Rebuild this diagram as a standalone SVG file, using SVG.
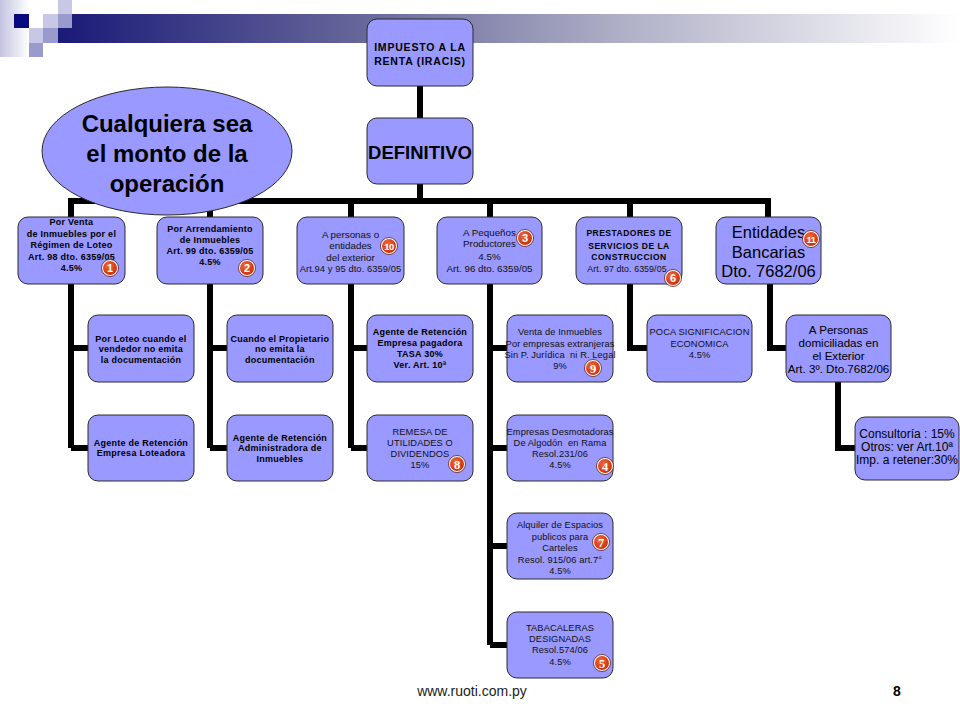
<svg xmlns="http://www.w3.org/2000/svg" width="960" height="720" viewBox="0 0 960 720">
<defs>
<linearGradient id="barG" x1="0" y1="0" x2="1" y2="0">
<stop offset="0" stop-color="#1a1a78"/>
<stop offset="0.35" stop-color="#6a6a9c"/>
<stop offset="0.62" stop-color="#aeaec6"/>
<stop offset="1" stop-color="#ffffff"/>
</linearGradient>
<linearGradient id="stripG" x1="0" y1="0" x2="1" y2="0">
<stop offset="0" stop-color="#c4c4e2"/>
<stop offset="1" stop-color="#ffffff"/>
</linearGradient>
<radialGradient id="badgeG" cx="0.4" cy="0.35" r="0.7">
<stop offset="0" stop-color="#f26a3a"/>
<stop offset="1" stop-color="#cc2a0a"/>
</radialGradient>
</defs>
<style>
.box{fill:#9999ff;stroke:#2a2a2a;stroke-width:1}
.ell{fill:#9999ff;stroke:#2a2a2a;stroke-width:1}
.con{fill:none;stroke:#000;stroke-width:6;stroke-linejoin:miter;stroke-linecap:butt}
text{font-family:"Liberation Sans",Arial,sans-serif;text-anchor:middle;fill:#000}
.bs{font-size:9px;font-weight:bold;letter-spacing:0.25px}
.rs{font-size:9.3px;letter-spacing:0.1px;fill:#111}
.rm{font-size:9.8px;fill:#111}
.cap{font-size:8.5px;font-weight:bold;letter-spacing:0.5px}
.md{font-size:12px}
.md2{font-size:11.6px}
.lg{font-size:16.5px}
.root{font-size:10.5px;font-weight:bold;letter-spacing:0.8px}
.def{font-size:18.5px;font-weight:bold}
.ellt{font-size:24px;font-weight:bold}
.bo{fill:#ffffff;stroke:#5a1a0a;stroke-width:0.8}
.bi{fill:url(#badgeG)}
.bn{font-size:11px;font-weight:bold;fill:#fff}
.bns{font-family:"Liberation Serif","Times New Roman",serif;font-size:12.5px;font-weight:bold;fill:#fff}
.bn2{font-size:9.5px;font-weight:bold;fill:#fff;letter-spacing:-0.6px}
.pre{white-space:pre}
</style>
<rect width="960" height="720" fill="#ffffff"/>

<g id="header">
<rect x="0" y="0" width="29" height="57" fill="url(#stripG)"/>
<rect x="58" y="14" width="902" height="29" fill="url(#barG)"/>
<rect x="14" y="14" width="15" height="14" fill="#0a0a80"/>
<rect x="43" y="14" width="15" height="14" fill="#c8c8e6"/>
<rect x="58" y="0" width="14" height="14" fill="#c8c8e6"/>
<rect x="58" y="14" width="14" height="14" fill="#9a9acc"/>
<rect x="29" y="28" width="14" height="15" fill="#c8c8e6"/>
<rect x="43" y="28" width="15" height="15" fill="#9a9acc"/>
<rect x="29" y="43" width="14" height="14" fill="#9a9acc"/>
</g>

<g id="connectors">
<path class="con" d="M420 86V118 M420 184V201 M71 217V201H768V217 M210 201V217 M351 201V217 M490 201V217 M630 201V217"/>
<path class="con" d="M71 283V448 M71 348H88 M71 448H88"/>
<path class="con" d="M210 283V448 M210 348H227 M210 448H227"/>
<path class="con" d="M351 283V448 M351 348H367 M351 448H367"/>
<path class="con" d="M490 283V645 M490 348H507 M490 448H507 M490 546H507 M490 645H507"/>
<path class="con" d="M630 283V348H647"/>
<path class="con" d="M770 283V348H786"/>
<path class="con" d="M838 382V448H855"/>
</g>

<g id="root">
<rect class="box" x="367" y="19" width="106" height="67" rx="10"/>
<text class="root" x="420" y="51">IMPUESTO A LA</text>
<text class="root" x="420" y="65">RENTA (IRACIS)</text>
</g>

<g id="definitivo">
<rect class="box" x="367" y="118" width="106" height="66" rx="10"/>
<text class="def" x="420" y="158.5">DEFINITIVO</text>
</g>

<g id="venta-loteo">
<rect class="box" x="18" y="217" width="107" height="67" rx="10"/>
<text class="bs" x="71.5" y="225">Por Venta</text>
<text class="bs" x="71.5" y="236.5">de Inmuebles por el</text>
<text class="bs" x="71.5" y="248">Régimen de Loteo</text>
<text class="bs" x="71.5" y="259.5">Art. 98 dto. 6359/05</text>
<text class="bs" x="71.5" y="270.5">4.5%</text>
</g>

<g id="arrendamiento">
<rect class="box" x="157" y="217" width="106" height="67" rx="10"/>
<text class="bs" x="210" y="231.5">Por Arrendamiento</text>
<text class="bs" x="210" y="242.8">de Inmuebles</text>
<text class="bs" x="210" y="254">Art. 99 dto. 6359/05</text>
<text class="bs" x="210" y="265.3">4.5%</text>
</g>

<g id="exterior">
<rect class="box" x="297" y="217" width="107" height="67" rx="10"/>
<text class="rm" x="350.5" y="237.7">A personas o</text>
<text class="rm" x="350.5" y="249">entidades</text>
<text class="rm" x="350.5" y="260.7">del exterior</text>
<text class="rs" x="350.5" y="271.7">Art.94 y 95 dto. 6359/05</text>
</g>

<g id="pequenos">
<rect class="box" x="437" y="217" width="105" height="67" rx="10"/>
<text class="rm" x="489.5" y="235.7">A Pequeños</text>
<text class="rm" x="489.5" y="247.3">Productores</text>
<text class="rm" x="489.5" y="259.7">4.5%</text>
<text class="rm" x="489.5" y="271.7">Art. 96 dto. 6359/05</text>
</g>

<g id="construccion">
<rect class="box" x="576" y="217" width="106" height="67" rx="10"/>
<text class="cap" x="629" y="236.3">PRESTADORES DE</text>
<text class="cap" x="629" y="248.7">SERVICIOS DE LA</text>
<text class="cap" x="629" y="260.3">CONSTRUCCION</text>
<text class="rs" x="627" y="272" style="font-size:8.8px">Art. 97 dto. 6359/05</text>
</g>

<g id="bancarias">
<rect class="box" x="716" y="217" width="105" height="67" rx="10"/>
<text class="lg" x="768.5" y="238">Entidades</text>
<text class="lg" x="768.5" y="257.5">Bancarias</text>
<text class="lg" x="768.5" y="276.5">Dto. 7682/06</text>
</g>

<g id="loteo-doc">
<rect class="box" x="88" y="315" width="106" height="67" rx="10"/>
<text class="bs" x="141" y="341.5">Por Loteo cuando el</text>
<text class="bs" x="141" y="352">vendedor no emita</text>
<text class="bs" x="141" y="362.5">la documentación</text>
</g>

<g id="loteadora">
<rect class="box" x="88" y="415" width="106" height="66" rx="10"/>
<text class="bs" x="141" y="445.5">Agente de Retención</text>
<text class="bs" x="141" y="456">Empresa Loteadora</text>
</g>

<g id="propietario">
<rect class="box" x="227" y="315" width="106" height="67" rx="10"/>
<text class="bs" x="280" y="341.5">Cuando el Propietario</text>
<text class="bs" x="280" y="352">no emita la</text>
<text class="bs" x="280" y="362.5">documentación</text>
</g>

<g id="administradora">
<rect class="box" x="227" y="415" width="106" height="66" rx="10"/>
<text class="bs" x="280" y="440.5">Agente de Retención</text>
<text class="bs" x="280" y="451">Administradora de</text>
<text class="bs" x="280" y="461.5">Inmuebles</text>
</g>

<g id="pagadora">
<rect class="box" x="367" y="315" width="106" height="67" rx="10"/>
<text class="bs" x="420" y="335">Agente de Retención</text>
<text class="bs" x="420" y="345.5">Empresa pagadora</text>
<text class="bs" x="420" y="356.5">TASA 30%</text>
<text class="bs" x="420" y="367.5">Ver. Art. 10ª</text>
</g>

<g id="remesa">
<rect class="box" x="367" y="415" width="106" height="66" rx="10"/>
<text class="rs" x="420" y="434.5">REMESA DE</text>
<text class="rs" x="420" y="445.5">UTILIDADES O</text>
<text class="rs" x="420" y="456.5">DIVIDENDOS</text>
<text class="rs" x="420" y="467.5">15%</text>
</g>

<g id="venta-extranjeras">
<rect class="box" x="507" y="315" width="106" height="67" rx="10"/>
<text class="rs" x="560" y="335">Venta de Inmuebles</text>
<text class="rs" x="560" y="346.5">Por empresas extranjeras</text>
<text class="rs pre" x="560" y="357.5" xml:space="preserve">Sin P. Jurídica  ni R. Legal</text>
<text class="rs" x="560" y="369">9%</text>
</g>

<g id="desmotadoras">
<rect class="box" x="507" y="415" width="106" height="66" rx="10"/>
<text class="rs" x="560" y="434.5">Empresas Desmotadoras</text>
<text class="rs pre" x="560" y="445.5" xml:space="preserve">De Algodón  en Rama</text>
<text class="rs" x="560" y="456.5">Resol.231/06</text>
<text class="rs" x="560" y="467.5">4.5%</text>
</g>

<g id="carteles">
<rect class="box" x="507" y="513" width="106" height="66" rx="10"/>
<text class="rs" x="560" y="528">Alquiler de Espacios</text>
<text class="rs" x="560" y="540">publicos para</text>
<text class="rs" x="560" y="551">Carteles</text>
<text class="rs" x="560" y="562.5">Resol. 915/06 art.7°</text>
<text class="rs" x="560" y="574">4.5%</text>
</g>

<g id="tabacaleras">
<rect class="box" x="507" y="612" width="106" height="66" rx="10"/>
<text class="rs" x="560" y="630.5">TABACALERAS</text>
<text class="rs" x="560" y="641.5">DESIGNADAS</text>
<text class="rs" x="560" y="653">Resol.574/06</text>
<text class="rs" x="560" y="665">4.5%</text>
</g>

<g id="poca">
<rect class="box" x="647" y="315" width="105" height="67" rx="10"/>
<text class="rs" x="699.5" y="335">POCA SIGNIFICACION</text>
<text class="rs" x="699.5" y="346.5">ECONOMICA</text>
<text class="rs" x="699.5" y="358">4.5%</text>
</g>

<g id="domiciliadas">
<rect class="box" x="786" y="315" width="105" height="67" rx="10"/>
<text class="md2" x="838.5" y="333.5">A Personas</text>
<text class="md2" x="838.5" y="346.5">domiciliadas en</text>
<text class="md2" x="838.5" y="359.5">el Exterior</text>
<text class="md2" x="838.5" y="372.5">Art. 3º. Dto.7682/06</text>
</g>

<g id="consultoria">
<rect class="box" x="855" y="417" width="104" height="63" rx="10"/>
<text class="md" x="907" y="437.7">Consultoría : 15%</text>
<text class="md" x="907" y="451">Otros: ver Art.10ª</text>
<text class="md" x="907" y="464.3">Imp. a retener:30%</text>
</g>

<g id="monto">
<ellipse class="ell" cx="167" cy="151" rx="125" ry="64"/>
<text class="ellt" x="167" y="132">Cualquiera sea</text>
<text class="ellt" x="167" y="162">el monto de la</text>
<text class="ellt" x="167" y="192">operación</text>
</g>

<g id="badges">
<g transform="translate(110,268)"><circle class="bo" r="8.5"/><circle class="bi" r="7"/><text class="bn" y="4">1</text></g>
<g transform="translate(247,268)"><circle class="bo" r="8.5"/><circle class="bi" r="7"/><text class="bn" y="4">2</text></g>
<g transform="translate(389,246)"><circle class="bo" r="8.5"/><circle class="bi" r="7"/><text class="bn2" y="3.5">10</text></g>
<g transform="translate(525,238)"><circle class="bo" r="8.5"/><circle class="bi" r="7"/><text class="bn" y="4">3</text></g>
<g transform="translate(673,278)"><circle class="bo" r="8.5"/><circle class="bi" r="7"/><text class="bn" y="4">6</text></g>
<g transform="translate(811,239)"><circle class="bo" r="8.5"/><circle class="bi" r="7"/><text class="bn2" y="3.5">11</text></g>
<g transform="translate(593,368)"><circle class="bo" r="8.5"/><circle class="bi" r="7"/><text class="bns" y="4.5">9</text></g>
<g transform="translate(457,464)"><circle class="bo" r="8.5"/><circle class="bi" r="7"/><text class="bns" y="4.5">8</text></g>
<g transform="translate(605,466)"><circle class="bo" r="8.5"/><circle class="bi" r="7"/><text class="bns" y="4.5">4</text></g>
<g transform="translate(601,542)"><circle class="bo" r="8.5"/><circle class="bi" r="7"/><text class="bns" y="4.5">7</text></g>
<g transform="translate(602,663)"><circle class="bo" r="8.5"/><circle class="bi" r="7"/><text class="bns" y="4.5">5</text></g>
</g>

<g id="footer">
<text x="472" y="696" style="font-size:14px;fill:#222">www.ruoti.com.py</text>
<text x="897" y="696" style="font-size:14px;font-weight:bold">8</text>
</g>
</svg>
